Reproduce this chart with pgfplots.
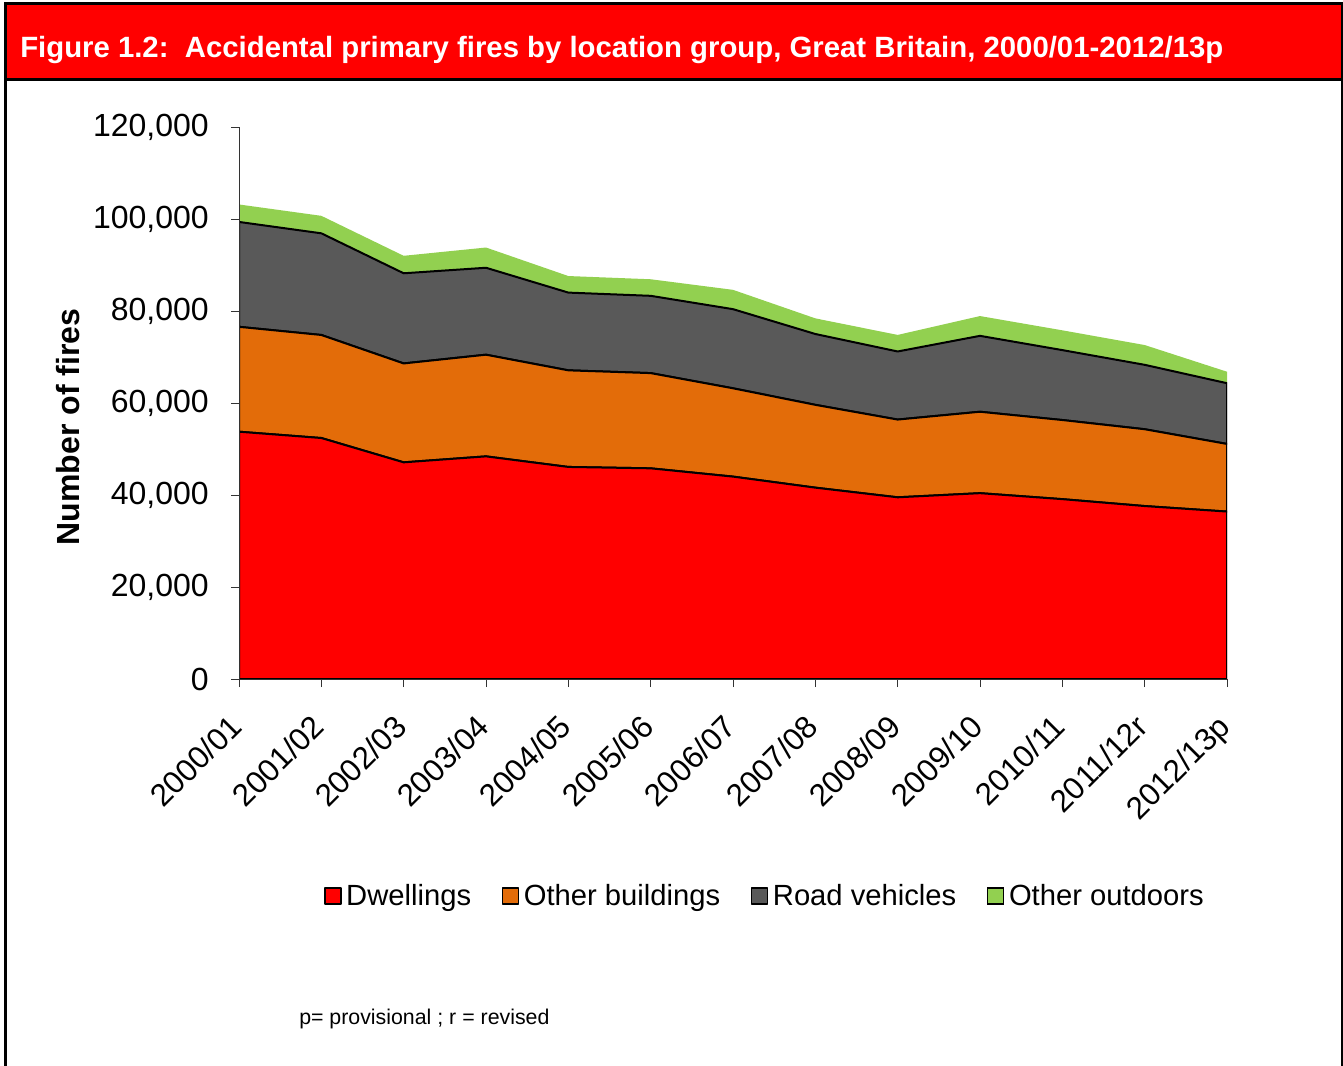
\documentclass[border=0pt]{standalone}
\usepackage{fontspec}
\setmainfont{Liberation Sans}
\usepackage{pgfplots}
\pgfplotsset{compat=1.18}
\definecolor{cRed}{HTML}{FF0000}
\definecolor{cOrange}{HTML}{E36C09}
\definecolor{cGrey}{HTML}{595959}
\definecolor{cGreen}{HTML}{92D050}
\begin{document}
\begin{tikzpicture}
\path[use as bounding box] (0pt,0pt) rectangle (1007.25pt,-799.5pt);
% frame and title bar
\fill[cRed] (3.75pt,-3pt) rectangle (1006.5pt,-59.5pt);
\draw[line width=2.25pt] (3.75pt,-805pt) -- (3.75pt,-3pt) -- (1006.5pt,-3pt) -- (1006.5pt,-60pt);
\draw[line width=2.25pt] (3.75pt,-59.5pt) -- (1006.5pt,-59.5pt);
\draw[line width=1.5pt] (1006.5pt,-59.5pt) -- (1006.5pt,-805pt);
\node[anchor=base west, inner sep=0pt, text=white, font=\fontsize{22pt}{26pt}\selectfont\bfseries]
  at (15pt,-43.5pt) {Figure 1.2:\ \ Accidental primary fires by location group, Great Britain, 2000/01-2012/13p};
\node[rotate=90, inner sep=0pt, font=\fontsize{24pt}{28pt}\selectfont\bfseries] at (51pt,-320.25pt) {Number of fires};
\node[anchor=base west, inner sep=0pt, font=\fontsize{16pt}{19pt}\selectfont] at (224.25pt,-768pt) {p= provisional ; r = revised};
\begin{axis}[
  at={(179.25pt,-509.25pt)}, anchor=south west,
  scale only axis, width=741pt, height=414pt,
  xmin=0, xmax=12, ymin=0, ymax=120000,
  stack plots=y,
  axis on top,
  axis x line*=bottom, axis y line*=left,
  xtick={0,...,12},
  xticklabels={2000/01,2001/02,2002/03,2003/04,2004/05,2005/06,2006/07,2007/08,2008/09,2009/10,2010/11,2011/12r,2012/13p},
  ytick={0,20000,40000,60000,80000,100000,120000},
  yticklabels={0,{20,000},{40,000},{60,000},{80,000},{100,000},{120,000}},
  scaled y ticks=false,
  tick align=outside, major tick length=6pt,
  every tick/.style={black!80, line width=0.75pt},
  axis line style={black!80, line width=0.75pt},
  yticklabel style={font=\fontsize{24pt}{28pt}\selectfont, anchor=east, inner sep=0pt, xshift=-16.5pt},
  xticklabel style={font=\fontsize{23.5pt}{28pt}\selectfont, xshift=-8.5pt, yshift=-19pt, rotate=45, anchor=north east, inner sep=0pt},
  legend columns=4,
  legend cell align=left,
  legend style={at={(0.086,-0.393)}, anchor=west, draw=none, fill=none, inner sep=0pt,
    font=\fontsize{21.9pt}{26pt}\selectfont, column sep=0pt,
    nodes={inner xsep=3.5pt, inner ysep=0pt},
    /tikz/every even column/.append style={column sep=19.5pt}},
  legend image code/.code={\draw[#1, line width=1pt] (0pt,-6pt) rectangle (12pt,6pt);},
]
\addplot[fill=cRed, draw=black, line width=1.5pt, line join=round] coordinates {
(0,53760) (1,52390) (2,47100) (3,48400) (4,46100) (5,45800) (6,44000) (7,41600) (8,39500) (9,40400) (10,39100) (11,37600) (12,36400)} \closedcycle;
\addlegendentry{Dwellings}
\addplot[fill=cOrange, draw=black, line width=1.5pt, line join=round] coordinates {
(0,22800) (1,22400) (2,21500) (3,22100) (4,21000) (5,20700) (6,19200) (7,18000) (8,16900) (9,17700) (10,17200) (11,16700) (12,14700)} \closedcycle;
\addlegendentry{Other buildings}
\addplot[fill=cGrey, draw=black, line width=1.5pt, line join=round] coordinates {
(0,22800) (1,22100) (2,19600) (3,18900) (4,16900) (5,16800) (6,17200) (7,15400) (8,14800) (9,16500) (10,15200) (11,14000) (12,13200)} \closedcycle;
\addlegendentry{Road vehicles}
\addplot[fill=cGreen, draw=none] coordinates {
(0,3800) (1,3800) (2,3800) (3,4400) (4,3600) (5,3600) (6,4200) (7,3400) (8,3600) (9,4300) (10,4300) (11,4300) (12,2500)} \closedcycle;
\addlegendentry{Other outdoors}
\end{axis}
\end{tikzpicture}
\end{document}
